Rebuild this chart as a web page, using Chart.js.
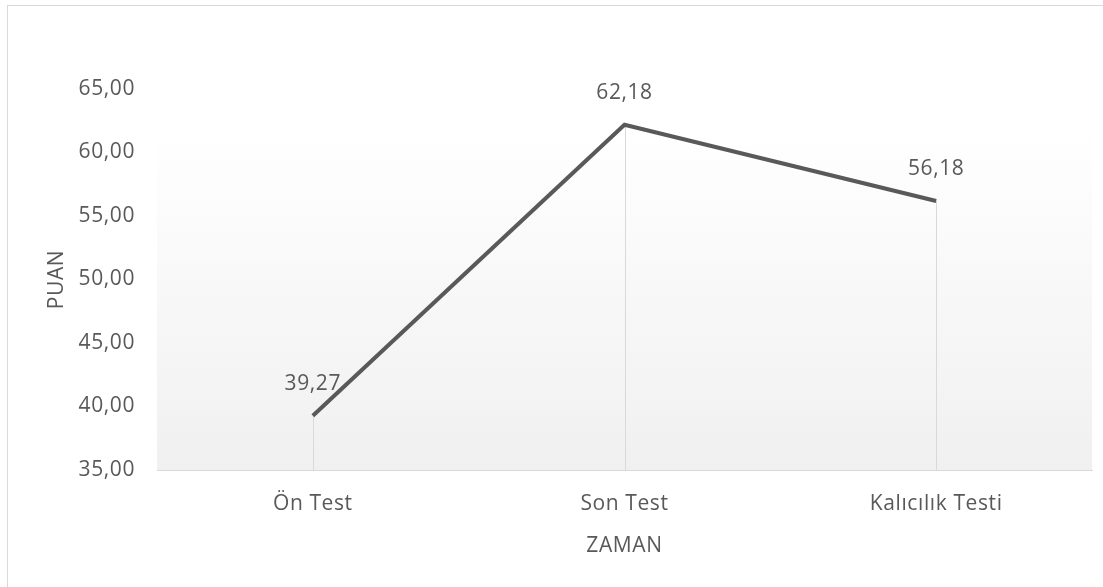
<!DOCTYPE html>
<html>
<head>
<meta charset="utf-8">
<script src="https://cdn.jsdelivr.net/npm/chart.js@4/dist/chart.umd.min.js"></script>
<style>
  html, body { margin: 0; padding: 0; background: #fff; overflow: hidden; }
  #wrap { position: relative; width: 1103px; height: 587px; }
  #frame { position: absolute; left: 7px; top: 5px; width: 1110px; height: 600px;
           border: 1px solid #d9d9d9; box-sizing: border-box; }
  #chart { position: absolute; left: 0; top: 0; }
</style>
</head>
<body>
<div id="wrap">
  <div id="frame"></div>
  <canvas id="chart" width="1103" height="587"></canvas>
</div>
<script>
const categories = ["Ön Test", "Son Test", "Kalıcılık Testi"];
const puan = [39.27, 62.18, 56.18];
const yTicks = [35, 40, 45, 50, 55, 60, 65];

const textColor = "#595959";
const fontFamily = "'Open Sans', sans-serif";
const fontSize = 21;

function fmt(v) {
    return v.toFixed(2).replace(".", ",");
}

// light gradient behind the plot, drop lines and value labels
const decor = {
    id: "decor",
    beforeDraw(chart) {
        // reference text is a bit wider than Open Sans
        chart.ctx.letterSpacing = "0.6px";
    },
    beforeDatasetsDraw(chart) {
        let ctx = chart.ctx;
        let area = chart.chartArea;
        let grad = ctx.createLinearGradient(0, area.top + 40, 0, area.bottom);
        grad.addColorStop(0, "#ffffff");
        grad.addColorStop(1, "#f0f0f0");
        ctx.save();
        ctx.fillStyle = grad;
        ctx.fillRect(area.left, area.top + 44, area.right - area.left, area.bottom - area.top - 44);

        let meta = chart.getDatasetMeta(0);
        ctx.strokeStyle = "#d9d9d9";
        ctx.lineWidth = 1;
        meta.data.forEach(pt => {
            ctx.beginPath();
            ctx.moveTo(Math.round(pt.x) + 0.5, pt.y);
            ctx.lineTo(Math.round(pt.x) + 0.5, area.bottom);
            ctx.stroke();
        });
        ctx.restore();
    },
    afterDatasetsDraw(chart) {
        let ctx = chart.ctx;
        let meta = chart.getDatasetMeta(0);
        ctx.save();
        ctx.fillStyle = textColor;
        ctx.font = fontSize + "px " + fontFamily;
        ctx.textAlign = "center";
        ctx.textBaseline = "middle";
        meta.data.forEach((pt, i) => {
            ctx.fillText(fmt(puan[i]), pt.x, pt.y - 32);
        });
        ctx.restore();
    }
};

let chartContext = document.getElementById("chart").getContext("2d");
new Chart(chartContext, {
    type: "line",
    data: {
        labels: categories,
        datasets: [{
            data: puan,
            borderColor: "#595959",
            borderWidth: 4,
            pointRadius: 0,
            tension: 0,
            fill: false
        }]
    },
    options: {
        responsive: false,
        animation: false,
        layout: { padding: { left: 36, top: 89, right: 11, bottom: 0 } },
        plugins: { legend: { display: false }, tooltip: { enabled: false } },
        scales: {
            x: {
                offset: true,
                grid: { display: false, drawTicks: false },
                border: { display: true, color: "#d9d9d9", width: 1 },
                ticks: { color: textColor, font: { family: fontFamily, size: fontSize }, padding: 21, maxRotation: 0 },
                title: { display: true, text: "ZAMAN", color: textColor,
                         font: { family: fontFamily, size: fontSize }, padding: { top: 0, bottom: 28 } },
                afterFit(scale) { scale.height = 117; }
            },
            y: {
                min: 35,
                max: 65,
                grid: { display: false, drawTicks: false },
                border: { display: false },
                afterBuildTicks(scale) { scale.ticks = yTicks.map(v => ({ value: v })); },
                ticks: { color: textColor, font: { family: fontFamily, size: fontSize }, padding: 22,
                         callback: v => fmt(v) },
                title: { display: true, text: "PUAN", color: textColor,
                         font: { family: fontFamily, size: fontSize }, padding: { top: 8, bottom: 0 } },
                afterFit(scale) { scale.width = 121; }
            }
        }
    },
    plugins: [decor]
});
</script>
</body>
</html>
